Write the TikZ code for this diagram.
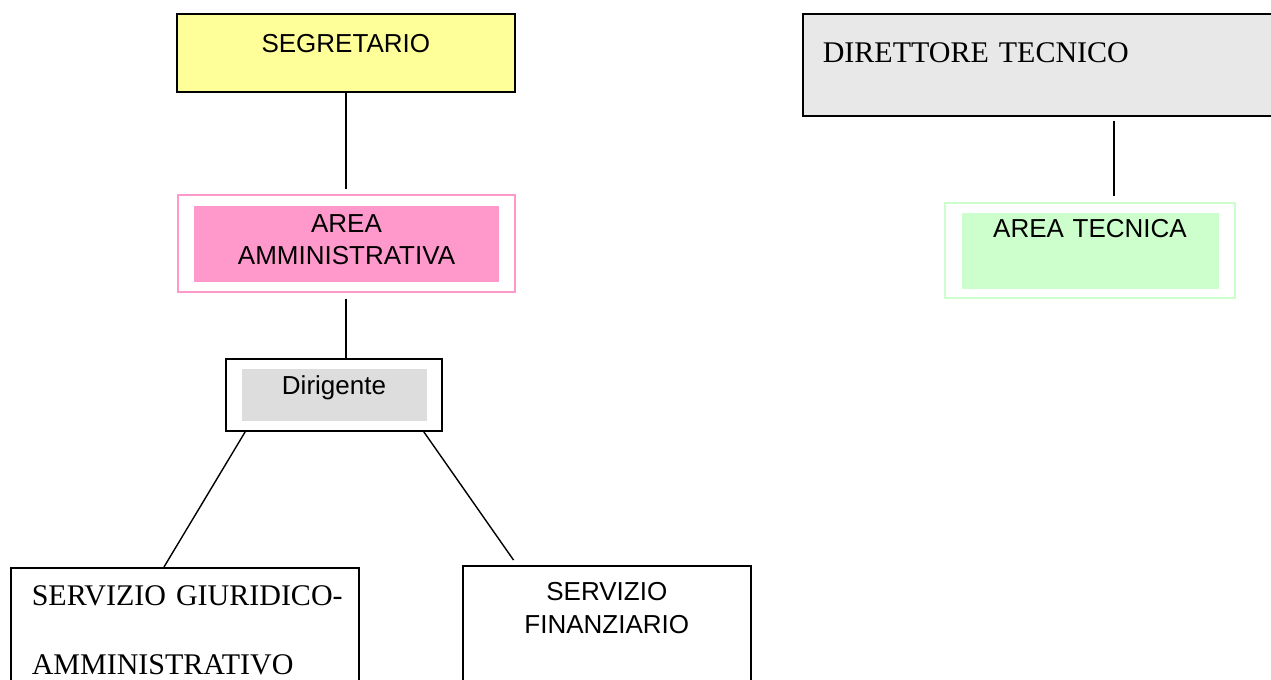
\documentclass[tikz,border=0pt]{standalone}
\usepackage{fontspec}
\setmainfont{Liberation Sans}
\newfontfamily\romain{Liberation Serif}
\usepackage{tikz}
\usetikzlibrary{calc}

\definecolor{giallo}{HTML}{FFFF99}
\definecolor{rosa}{HTML}{FF99CC}
\definecolor{grigio}{HTML}{DDDDDD}
\definecolor{grigiochiaro}{HTML}{E8E8E8}
\definecolor{verde}{HTML}{CCFFCC}

\newcommand{\arial}{\fontsize{13}{16}\selectfont}
\newcommand{\tnr}{\romain\fontsize{15}{34.5}\selectfont}

\tikzstyle{boite} = [rectangle, draw=black, line width=0.8pt, inner sep=0pt, align=center, font=\arial]
\tikzstyle{cadre} = [rectangle, line width=0.7pt, inner sep=0pt]
\tikzstyle{fond} = [rectangle, inner sep=0pt, align=center, font=\arial]
\tikzstyle{trait} = [line width=0.7pt]

\begin{document}
\begin{tikzpicture}[x=0.5pt, y=-0.5pt]

        \useasboundingbox (0,0) rectangle (1271,680);
        \clip (0,0) rectangle (1271,680);

        \node (segr) [boite, fill=giallo, anchor=north west, text width=169pt, text height=19.5pt, text depth=19.5pt] at (176,13) {SEGRETARIO};

        \node (amm) [cadre, draw=rosa, minimum width=168.5pt, minimum height=48.5pt] at (346.5,243.5) {};
        \node (ammtxt) [fond, fill=rosa, text width=152.5pt, text height=13.5pt, text depth=24.5pt] at (amm.center) {AREA\\AMMINISTRATIVA};

        \node (dir) [boite, minimum width=108pt, minimum height=36pt] at (334,395) {};
        \node (dirtxt) [fond, fill=grigio, text width=92.5pt, text height=12.5pt, text depth=13.5pt] at (dir.center) {Dirigente};

        \node (giur) [boite, anchor=north west, inner xsep=10.5pt, text width=153pt, align=left, text height=19pt, text depth=47.5pt, font=\tnr] at (10,567) {\mbox{SERVIZIO GIURIDICO-}\\AMMINISTRATIVO};
        \node (fin) [boite, anchor=north west, text width=144pt, text height=17.5pt, text depth=50pt, font=\fontsize{13}{16.5}\selectfont] at (462,565) {SERVIZIO\\FINANZIARIO};

        \node (dirtec) [boite, fill=grigiochiaro, anchor=north west, inner xsep=10pt, text width=224pt, align=left, text height=24.5pt, text depth=26.5pt, font=\romain\fontsize{15}{18}\selectfont] at (802,13) {DIRETTORE TECNICO};

        \node (tec) [cadre, draw=verde, minimum width=145pt, minimum height=47.5pt] at (1090,250.5) {};
        \node (tectxt) [fond, fill=verde, text width=128.5pt, text height=12.5pt, text depth=25.5pt] at (tec.center) {AREA TECNICA};

        \draw[trait, shorten >=2.5pt] (segr.south) -- (segr.south |- amm.north);
        \draw[trait, shorten <=3pt] (segr.south |- amm.south) -- (segr.south |- dir.north);
        \draw[trait] ($(dir.south west)+(20,0)$) -- ($(giur.north west)+(154,0)$);
        \draw[trait, shorten >=3pt] ($(dir.south east)+(-19,0)$) -- ($(fin.north west)+(55,0)$);
        \draw[trait, shorten <=2pt, shorten >=3pt] ($(tec.north |- dirtec.south)+(24,0)$) -- ($(tec.north)+(24,0)$);

    \end{tikzpicture}
\end{document}
